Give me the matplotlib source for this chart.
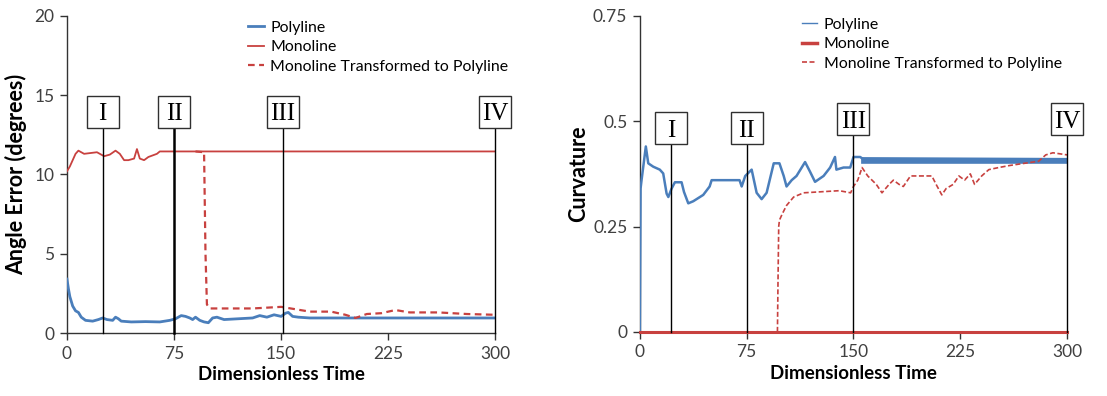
import matplotlib
matplotlib.use("Agg")
import matplotlib.pyplot as plt

plt.rcParams['font.family'] = ['Lato', 'DejaVu Sans']

BLUE = '#4a7ebb'
RED = '#c8413f'

# ---- left panel: angle error ----
poly_ang_x = [0, 1, 2, 4, 6, 8, 10, 13, 18, 22, 25, 28, 32, 34, 36, 38, 45, 55, 65, 72,
              76, 80, 83, 86, 88, 90, 93, 96, 99, 102, 105, 110, 120, 130, 135, 140, 145,
              150, 153, 155, 158, 162, 170, 200, 300]
poly_ang_y = [3.4, 2.8, 2.3, 1.7, 1.4, 1.3, 1.0, 0.8, 0.75, 0.85, 0.95, 0.85, 0.8, 1.0, 0.9,
              0.75, 0.7, 0.72, 0.7, 0.8, 0.9, 1.1, 1.05, 0.95, 0.85, 1.0, 0.8, 0.7, 0.65, 0.95,
              1.0, 0.85, 0.9, 0.95, 1.1, 1.0, 1.15, 1.05, 1.25, 1.3, 1.05, 1.0, 0.95, 0.95, 0.95]

mono_ang_x = [0, 2, 6, 8, 12, 21, 26, 30, 34, 37, 40, 43, 47, 49, 51, 54, 57, 63, 65, 75, 300]
mono_ang_y = [10.2, 10.5, 11.3, 11.5, 11.3, 11.4, 11.15, 11.25, 11.5, 11.3, 10.9, 10.9, 11.0,
              11.6, 11.0, 10.9, 11.1, 11.3, 11.45, 11.45, 11.45]

trans_ang_x = [90, 96, 97, 98, 100, 110, 130, 150, 160, 170, 185, 195, 202, 210, 220, 230,
               240, 260, 280, 300]
trans_ang_y = [11.45, 11.4, 5.0, 1.8, 1.55, 1.55, 1.55, 1.65, 1.5, 1.35, 1.35, 1.15, 0.95, 1.2,
               1.25, 1.45, 1.3, 1.3, 1.2, 1.15]

# ---- right panel: curvature ----
poly_cur_x = [0, 0.5, 1.2, 4.2, 5.9, 9.4, 14, 16.4, 18.8, 20, 22.3, 24.6, 29.3, 31, 34, 37.5,
              44.5, 49, 50.4, 70, 71.5, 74, 78.5, 82, 85.5, 89, 94, 98, 101, 103, 106.6, 110,
              116, 119.5, 123, 129, 133.6, 137, 138, 143, 147.7, 150, 154.7, 158, 300]
poly_cur_y = [0.0, 0.34, 0.36, 0.44, 0.40, 0.392, 0.385, 0.376, 0.328, 0.32, 0.34, 0.355,
              0.355, 0.332, 0.305, 0.31, 0.325, 0.345, 0.36, 0.36, 0.345, 0.37, 0.385, 0.33,
              0.315, 0.33, 0.40, 0.40, 0.37, 0.345, 0.36, 0.37, 0.403, 0.38, 0.356, 0.37, 0.39,
              0.415, 0.385, 0.39, 0.39, 0.415, 0.415, 0.407, 0.407]
# jitter band of the polyline curvature after it settles
poly_band_x = [155, 300]
poly_band_lo = [0.400, 0.400]
poly_band_hi = [0.416, 0.414]

mono_cur_x = [0, 300]
mono_cur_y = [0.0, 0.0]

trans_cur_x = [96.6, 97, 97.5, 98, 100, 103, 108, 115, 140, 148, 150, 153, 156, 160, 163, 166,
               170, 175, 178, 182, 185, 190, 205, 208, 212, 215, 220, 224, 228, 232, 235, 240,
               245, 252, 260, 270, 280, 285, 290, 300]
trans_cur_y = [0.0, 0.12, 0.25, 0.265, 0.28, 0.30, 0.32, 0.33, 0.335, 0.33, 0.345, 0.36, 0.39,
               0.37, 0.36, 0.35, 0.33, 0.35, 0.36, 0.35, 0.345, 0.37, 0.37, 0.35, 0.325, 0.34,
               0.35, 0.37, 0.36, 0.375, 0.35, 0.37, 0.385, 0.39, 0.395, 0.40, 0.405, 0.42,
               0.425, 0.42]

x_ticks = [0, 75, 150, 225, 300]
marker_labels = ['I', 'II', 'III', 'IV']
ang_marker_x = [25, 75, 151, 300]
ang_marker_y = [13.94, 13.94, 13.94, 13.94]
cur_marker_x = [22, 75, 150, 300]
cur_marker_y = [0.483, 0.483, 0.505, 0.505]

fig = plt.figure(figsize=(11.07, 3.96), dpi=100)
ax1 = fig.add_axes([0.0605, 0.159, 0.387, 0.801])
ax2 = fig.add_axes([0.578, 0.162, 0.386, 0.798])


def style(ax, ylim, yticks, ylabels, ylabel, label_x):
    ax.set_xlim(0, 300)
    ax.set_ylim(*ylim)
    ax.set_xticks(x_ticks)
    ax.set_yticks(yticks)
    ax.set_yticklabels(ylabels)
    for s in ['top', 'right']:
        ax.spines[s].set_visible(False)
    for s in ['left', 'bottom']:
        ax.spines[s].set_color('#333333')
        ax.spines[s].set_linewidth(1.0)
    ax.tick_params(direction='out', length=5, width=1, colors='#333333',
                   labelsize=12.5, labelcolor='#404040', pad=4)
    ax.set_xlabel('Dimensionless Time', fontsize=13.5, fontweight='bold', labelpad=3)
    ax.set_ylabel(ylabel, fontsize=15.5, fontweight='bold')
    ax.yaxis.set_label_coords(label_x, 0.5)


def markers(ax, xs, ys, half, thick):
    for lab, x, y, lw in zip(marker_labels, xs, ys, thick):
        ax.plot([x, x], [0, y - half], color='black', lw=lw, clip_on=False, zorder=4)
        # fixed-size square label boxes
        ax.plot([x], [y], marker='s', ms=22.5, mfc='white', mec='#303030', mew=1.0,
                clip_on=False, zorder=5)
        ax.text(x, y, lab, family=['Liberation Serif', 'DejaVu Serif'], fontsize=18,
                ha='center', va='center_baseline', zorder=6, clip_on=False)


# left
ax1.plot(poly_ang_x, poly_ang_y, color=BLUE, lw=2.0, label='Polyline', zorder=3)
ax1.plot(mono_ang_x, mono_ang_y, color=RED, lw=1.3, label='Monoline', zorder=3)
ax1.plot(trans_ang_x, trans_ang_y, color=RED, lw=1.6, ls=(0, (3, 2)),
         label='Monoline Transformed to Polyline', zorder=3)
style(ax1, (0, 20), [0, 5, 10, 15, 20], ['0', '5', '10', '15', '20'],
      'Angle Error (degrees)', -0.092)
markers(ax1, ang_marker_x, ang_marker_y, 1.0, [1.0, 1.8, 1.0, 1.0])
ax1.legend(loc='upper left', bbox_to_anchor=(0.39, 1.03), frameon=False, fontsize=11.4,
           handlelength=1.0, handletextpad=0.4, labelspacing=0.35)

# right
ax2.plot(poly_cur_x, poly_cur_y, color=BLUE, lw=1.8, label='Polyline', zorder=3)
ax2.fill_between(poly_band_x, poly_band_lo, poly_band_hi, color=BLUE, lw=0, zorder=3)
ax2.plot(mono_cur_x, mono_cur_y, color=RED, lw=2.2, label='Monoline', zorder=3, clip_on=False)
ax2.plot(trans_cur_x, trans_cur_y, color=RED, lw=1.2, ls=(0, (3, 1.5)),
         label='Monoline Transformed to Polyline', zorder=3)
style(ax2, (0, 0.75), [0, 0.25, 0.5, 0.75], ['0', '0.25', '0.5', '0.75'],
      'Curvature', -0.118)
markers(ax2, cur_marker_x, cur_marker_y, 0.037, [1.0, 1.0, 1.0, 1.0])
leg = ax2.legend(loc='upper left', bbox_to_anchor=(0.345, 1.04), frameon=False, fontsize=11.4,
                 handlelength=1.0, handletextpad=0.4, labelspacing=0.35)
leg.get_lines()[0].set_linewidth(1.0)
leg.get_lines()[1].set_linewidth(2.5)

fig.savefig('out.png', dpi=100)
